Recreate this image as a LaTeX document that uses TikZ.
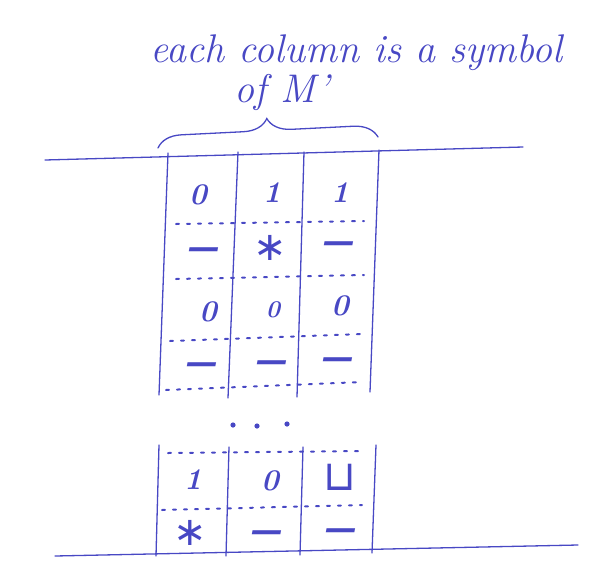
\documentclass[tikz,border=0pt]{standalone}
\usepackage{fontspec}
\usetikzlibrary{decorations.pathreplacing}
\definecolor{inkblue}{RGB}{72,72,196}
\newfontfamily\symfont{DejaVu Sans}
\newcommand{\dsh}{{\symfont\bfseries\fontsize{32}{34}\selectfont —}}
\newcommand{\starsym}{{\symfont\mdseries\fontsize{40}{42}\selectfont ∗}}
\newcommand{\blanksym}{{\symfont\mdseries\fontsize{42}{44}\selectfont ⊔}}
\begin{document}
\begin{tikzpicture}[x=1pt,y=-1pt,
  ink/.style={draw=inkblue, line width=1.3pt, line cap=round},
  rowline/.style={draw=inkblue, line width=2pt, line cap=round, dash pattern=on 3pt off 8pt},
  cell/.style={text=inkblue, font=\fontsize{30}{32}\selectfont\bfseries\itshape, inner sep=0pt},
  label/.style={text=inkblue, font=\fontsize{40}{44}\selectfont\itshape, inner sep=0pt, anchor=base west}]
\useasboundingbox (0,0) rectangle (598,566);
% caption
\node[label] (t1) at (150,62) {each column is a symbol};
\node[label] (t2) at (234,102) {of M\kern2pt'};
% brace
\draw[ink, decorate, decoration={brace, amplitude=24pt, raise=0pt}] (158,148) -- (378,137);
% horizontal rules
\draw[ink] (45,160) -- (523,147);
\draw[ink] (55,556) -- (578,545);
% top block verticals
\draw[ink] (168,153) -- (159,395);
\draw[ink] (238,152) -- (228,398);
\draw[ink] (304,152) -- (297,397);
\draw[ink] (379,150) -- (370,392);
% bottom block verticals
\draw[ink] (159,445) -- (156,556);
\draw[ink] (229,447) -- (226,556);
\draw[ink] (303,447) -- (300,555);
\draw[ink] (376,445) -- (372,553);
% dotted row separators
\draw[rowline] (176,224) -- (364,221);
\draw[rowline] (176,279) -- (364,275);
\draw[rowline] (170,341) -- (362,334);
\draw[rowline] (166,390) -- (362,382);
\draw[rowline] (168,453) -- (364,451);
\draw[rowline] (162,510) -- (362,505);
% dots between blocks
\fill[inkblue] (233,425) circle (2.6pt) (257,426) circle (2.6pt) (287,424) circle (2.6pt);
% cells, top block
\node[cell] (a1) at (198,195) {0};
\node[cell] (b1) at (272,193) {1};
\node[cell] (c1) at (340,193) {1};
\node[cell] (a2) at (204,253) {\dsh};
\node[cell] (b2) at (270,248) {\starsym};
\node[cell] (c2) at (339,247) {\dsh};
\node[cell] (a3) at (208,312) {0};
\node[cell] (b3) at (273,310) {\fontsize{24}{26}\selectfont 0};
\node[cell] (c3) at (340,306) {0};
\node[cell] (a4) at (202,368) {\dsh};
\node[cell] (b4) at (272,366) {\dsh};
\node[cell] (c4) at (338,363) {\dsh};
% cells, bottom block
\node[cell] (a5) at (193,480) {1};
\node[cell] (b5) at (270,481) {0};
\node[cell] (c5) at (340,477) {\blanksym};
\node[cell] (a6) at (190,533) {\starsym};
\node[cell] (b6) at (267,536) {\dsh};
\node[cell] (c6) at (341,534) {\dsh};
\end{tikzpicture}
\end{document}
